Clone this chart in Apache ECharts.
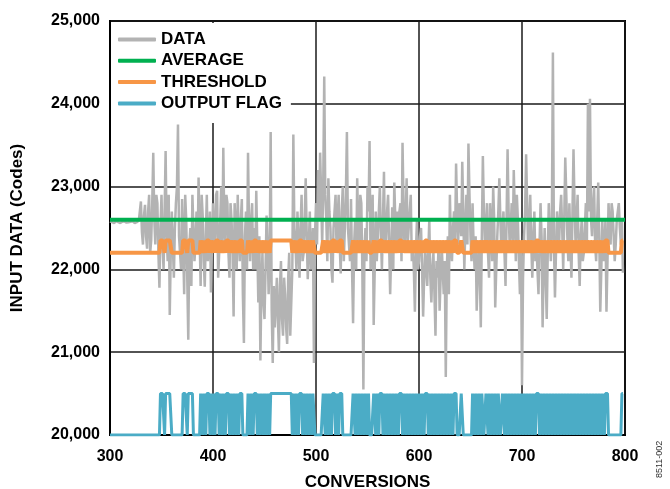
<!DOCTYPE html>
<html><head><meta charset="utf-8">
<script src="https://cdn.jsdelivr.net/npm/echarts@6/dist/echarts.min.js"></script>
<style>html,body{margin:0;padding:0;background:#fff}#c{width:670px;height:489px}</style>
</head><body><div id="c"></div>
<script>
const xTicks = [300, 400, 500, 600, 700, 800];
const yTicks = [20000, 21000, 22000, 23000, 24000, 25000];
const seriesNames = ['DATA', 'AVERAGE', 'THRESHOLD', 'OUTPUT FLAG'];
// DATA samples at even conversions 300, 302, ... 798
const dataEvenStart = 300;
const dataEven = [
22580,22570,22560,22585,22570,22560,22575,22580,22565,22570,
22575,22580,22560,22570,22590,22820,22300,22780,22250,22900,
22350,23410,22300,22800,21780,22900,22000,23430,22100,21450,
22700,21900,22800,23750,22200,22850,21700,22600,21150,22500,
22900,22100,22700,23110,21800,22650,21790,22900,22300,21720,
22800,22400,22950,22200,23000,23470,22300,22800,21900,22600,
21430,22500,22900,22100,22850,21110,22700,23410,22100,22800,
22500,22950,21600,20900,22200,21400,22650,21700,23660,20870,
21300,21900,21000,22100,21200,21700,21100,22200,21600,23630,
22300,22700,21900,22900,22200,23100,21880,22700,22000,20870,
22800,23200,23410,22300,24330,22600,23100,22500,21840,22700,
22200,22900,21950,23000,22500,23660,22300,22850,21350,22600,
23100,22200,22800,20550,22500,23000,23550,22300,21330,22700,
22400,23000,22000,23180,22350,22900,21700,22750,23050,22200,
22300,22800,23530,22200,23100,22500,22900,22300,21490,22600,
22100,22500,21430,22300,21800,22600,21600,22200,21200,21900,
21500,22300,21700,20700,22400,22900,22100,22700,23280,22300,
22800,23300,22000,22900,23520,22400,22800,22000,21500,22300,
21300,23370,22300,22800,21900,22500,23000,21540,22400,23100,
22200,22700,21800,23450,22300,22800,23200,22100,22600,21700,
20600,22400,23390,22200,22900,21900,22700,22300,21700,22800,
21300,22500,21400,22800,22100,24620,21660,22700,22300,22900,
22000,23350,22400,22800,21900,23450,22300,22900,21800,22600,
22200,22800,24000,24060,22400,23000,22100,23050,21490,22600,
22200,21490,22800,22300,22700,22100,22600,22800,22300,21960
];
// DATA samples at odd conversions 301, 303, ... 797
const dataOddStart = 301;
const dataOdd = [
22575,22565,22570,22580,22560,22570,22585,22570,22575,22560,
22570,22565,22580,22560,22570,22450,22650,22400,22700,22200,
22800,22600,22900,22200,22500,22300,22700,22400,22900,22200,
22300,22500,23000,22400,22000,22300,22900,21900,22300,21800,
22500,22300,22200,22400,22900,22100,22400,22100,22700,22300,
22200,22900,21900,22600,22200,22500,22900,22200,22800,22200,
22800,22000,22400,22600,21700,22400,22000,22500,22600,22000,
22000,22300,22400,21800,21600,22000,22300,22100,21500,21800,
21600,21400,21800,21400,21900,21300,21900,21200,22000,22500,
22000,22300,22500,22100,22600,22400,22300,22000,22500,22400,
22300,22600,22900,23000,22900,22100,22700,22000,22500,22900,
22600,22300,22700,22100,22900,22500,22100,22000,22300,22000,
22500,22900,22000,22200,22100,22700,22000,22900,22000,22100,
22700,22400,22600,22200,22700,22300,22200,22000,22600,22700,
22700,22100,22800,22600,22300,22700,22100,22000,22200,22000,
22400,22000,21900,22000,22200,21900,22000,21700,22100,22300,
21900,22000,22100,22000,21700,22300,22500,22300,22700,22800,
22400,22700,22500,22300,22900,22100,22300,22400,21900,22000,
22400,22700,22500,22200,22800,22100,22600,22000,22700,22600,
22500,22200,22600,22700,22500,22300,22700,22900,22100,22300,
21900,22700,22800,22500,22300,22400,22100,22000,22300,22400,
22000,21900,22200,22400,22600,22300,22200,22500,22700,22500,
22600,22900,22100,22300,22700,22800,22600,22200,22400,22100,
22500,22300,22700,22600,22800,22300,22600,22400,22000,22100,
22600,22100,22500,22800,22400,22300,22700,22500,22600
];
const averageValue = 22600;
const averageRange = [300, 800];
const thresholdLevels = [22200, 22350];
const flagLevels = [20000, 20500];
const stateRange = [300, 798];
const flagHighRuns = [
[349,352],[354,359],
[371,374],[376,380],
[388,389],[391,392],[394,396],[398,399],[401,401],[403,405],[407,408],[410,411],[413,415],[417,418],[420,421],[423,424],[426,428],
[434,435],[437,438],[440,442],[444,445],[447,448],[450,451],[453,454],
[456,476],
[478,479],[481,482],[484,486],[488,489],[491,492],[494,495],[497,498],
[507,508],[510,511],[513,514],[516,518],[520,521],[523,525],
[536,537],[539,540],[542,543],[545,546],[548,549],[551,551],
[556,557],[559,560],[562,564],[566,567],[569,570],[572,573],[575,576],[578,579],[581,583],[585,586],[588,589],[591,592],[594,595],[597,598],
[600,601],[603,604],[606,608],[610,611],[613,614],[616,617],[619,620],[622,623],[625,626],[628,629],[631,632],[634,636],
[641,642],
[652,653],[655,656],[658,659],[661,662],[665,666],[668,669],[671,672],[674,675],[677,678],[681,682],[684,685],[687,688],[690,691],[693,694],[696,697],[699,700],
[702,703],[705,706],[708,709],[711,712],[714,716],[718,719],[721,722],[724,725],[727,728],[730,731],[733,734],[736,737],[739,740],[742,743],[745,746],[748,749],
[751,752],[754,755],[757,758],[760,761],[763,764],[766,767],[769,770],[772,773],[775,776],[778,779],[781,783],
[797,798]
];

const dataSeries = [];
for (let i = 0; i < dataEven.length; i++) {
  dataSeries.push([dataEvenStart + 2 * i, dataEven[i]]);
  if (i < dataOdd.length) dataSeries.push([dataOddStart + 2 * i, dataOdd[i]]);
}
const avgSeries = averageRange.map(x => [x, averageValue]);
const thrSeries = [], flagSeries = [];
for (let c = stateRange[0]; c <= stateRange[1]; c++) {
  const hi = flagHighRuns.some(r => c >= r[0] && c <= r[1]) ? 1 : 0;
  thrSeries.push([c, thresholdLevels[hi]]);
  flagSeries.push([c, flagLevels[hi]]);
}

const FONT = '"Liberation Sans", Arial, sans-serif';
const chart = echarts.init(document.getElementById('c'), null, {renderer: 'canvas'});
chart.setOption({
  animation: false,
  backgroundColor: '#fff',
  grid: {left: 110, right: 45, top: 21, bottom: 54, containLabel: false, outerBoundsMode: 'none',
         show: true, borderColor: '#000', borderWidth: 2, backgroundColor: 'transparent'},
  legend: {
    data: seriesNames, orient: 'vertical', left: 111, top: 23,
    padding: [8, 9, 11, 7], itemGap: 4.3, itemWidth: 38, itemHeight: 4, icon: 'roundRect',
    backgroundColor: '#fff',
    textStyle: {fontFamily: FONT, fontWeight: 'bold', fontSize: 17, color: '#000', lineHeight: 17}
  },
  xAxis: {
    type: 'value', min: xTicks[0], max: xTicks[xTicks.length - 1], interval: 100,
    name: 'CONVERSIONS', nameLocation: 'middle', nameGap: 39,
    nameTextStyle: {fontFamily: FONT, fontWeight: 'bold', fontSize: 17, color: '#000'},
    axisLine: {show: true, lineStyle: {color: '#000', width: 2}},
    axisTick: {show: false},
    axisLabel: {fontFamily: FONT, fontWeight: 'bold', fontSize: 16, color: '#000', margin: 14},
    splitLine: {show: true, lineStyle: {color: '#1a1a1a', width: 1.5}}
  },
  yAxis: {
    type: 'value', min: yTicks[0], max: yTicks[yTicks.length - 1], interval: 1000,
    name: 'INPUT DATA (Codes)', nameLocation: 'middle', nameGap: 84,
    nameTextStyle: {fontFamily: FONT, fontWeight: 'bold', fontSize: 17, color: '#000'},
    axisLine: {show: true, lineStyle: {color: '#000', width: 2}},
    axisTick: {show: false},
    axisLabel: {fontFamily: FONT, fontWeight: 'bold', fontSize: 16, color: '#000', margin: 10,
      formatter: v => v.toLocaleString('en-US')},
    splitLine: {show: true, lineStyle: {color: '#1a1a1a', width: 1.5}}
  },
  graphic: [{
    type: 'text', x: 655, y: 478, rotation: Math.PI / 2,
    style: {text: '8511-002', fontFamily: FONT, fontSize: 9, fill: '#333', textAlign: 'left', textVerticalAlign: 'top'}
  }],
  series: [
    {name: seriesNames[0], type: 'line', data: dataSeries, showSymbol: false, symbol: 'none',
     lineStyle: {color: '#b3b3b3', width: 2.5}, itemStyle: {color: '#b3b3b3'}},
    {name: seriesNames[1], type: 'line', data: avgSeries, showSymbol: false, symbol: 'none',
     lineStyle: {color: '#00b050', width: 4}, itemStyle: {color: '#00b050'}},
    {name: seriesNames[2], type: 'line', data: thrSeries, showSymbol: false, symbol: 'none',
     lineStyle: {color: '#f79646', width: 4}, itemStyle: {color: '#f79646'}},
    {name: seriesNames[3], type: 'line', data: flagSeries, showSymbol: false, symbol: 'none',
     lineStyle: {color: '#4bacc6', width: 3}, itemStyle: {color: '#4bacc6'}}
  ]
});
</script></body></html>
